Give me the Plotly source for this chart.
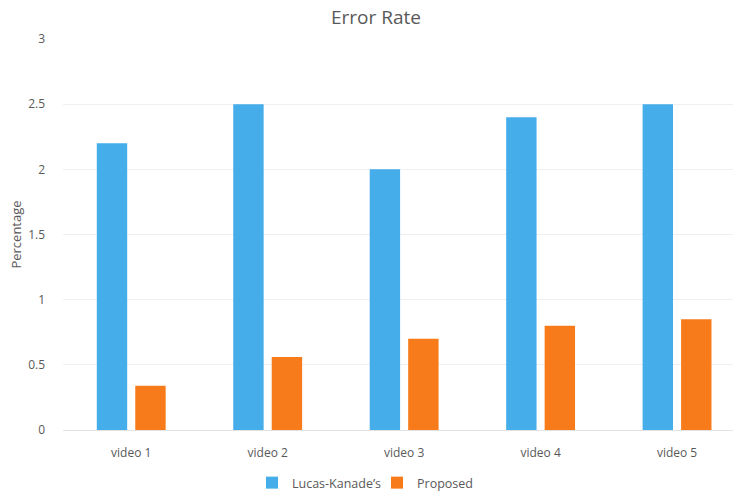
import plotly.graph_objects as go

categories = ["video 1", "video 2", "video 3", "video 4", "video 5"]
lucas_kanade = [2.2, 2.5, 2.0, 2.4, 2.5]
proposed = [0.34, 0.56, 0.70, 0.80, 0.85]

W, H = 733, 492
FONT = "Open Sans"
GRAY = "#595959"
PLOT_TOP, PLOT_BOTTOM = 39, 430
PH = PLOT_BOTTOM - PLOT_TOP

fig = go.Figure()
fig.add_trace(go.Bar(name="Lucas-Kanade\u2019s", x=categories, y=lucas_kanade,
                     marker=dict(color="#45ADEA", line=dict(width=0))))
fig.add_trace(go.Bar(name="Proposed", x=categories, y=proposed,
                     marker=dict(color="#F77B1A", line=dict(width=0))))

fig.update_layout(
    width=W, height=H,
    margin=dict(l=63, r=0, t=PLOT_TOP, b=H - PLOT_BOTTOM, autoexpand=False),
    paper_bgcolor="white", plot_bgcolor="white",
    barmode="group", bargap=0.436, bargroupgap=0.21,
    font=dict(family=FONT, color=GRAY, size=12),
    title=dict(text="Error Rate", x=376 / W, xanchor="center", xref="container",
               y=1 - 17 / H, yanchor="middle", yref="container",
               font=dict(family=FONT, size=19, color=GRAY)),
    legend=dict(orientation="h", xref="paper", yref="paper",
                x=(377 - 63) / (W - 63), xanchor="center",
                y=-(483 - PLOT_BOTTOM) / PH, yanchor="middle",
                font=dict(family=FONT, size=12.5, color=GRAY),
                itemwidth=30, entrywidth=80, entrywidthmode="pixels",
                tracegroupgap=0, traceorder="normal"),
    xaxis=dict(range=[-0.5, 4.41], showgrid=False, showline=False, ticks="",
               automargin=False, ticklabelstandoff=14,
               tickfont=dict(family=FONT, size=12, color=GRAY)),
    yaxis=dict(range=[0, 3], dtick=0.5, showgrid=True, gridcolor="#EFEFEF",
               gridwidth=1, zeroline=True, zerolinecolor="#E3E3E3", zerolinewidth=1,
               showline=False, ticks="", ticklabelstandoff=17, automargin=False,
               tickfont=dict(family=FONT, size=12, color=GRAY),
               title=dict(text="Percentage", standoff=3,
                          font=dict(family=FONT, size=13, color=GRAY))),
)

fig.write_html("out.html", config={"displayModeBar": False},
               post_script="document.body.style.margin='0';document.body.style.overflow='hidden';")
